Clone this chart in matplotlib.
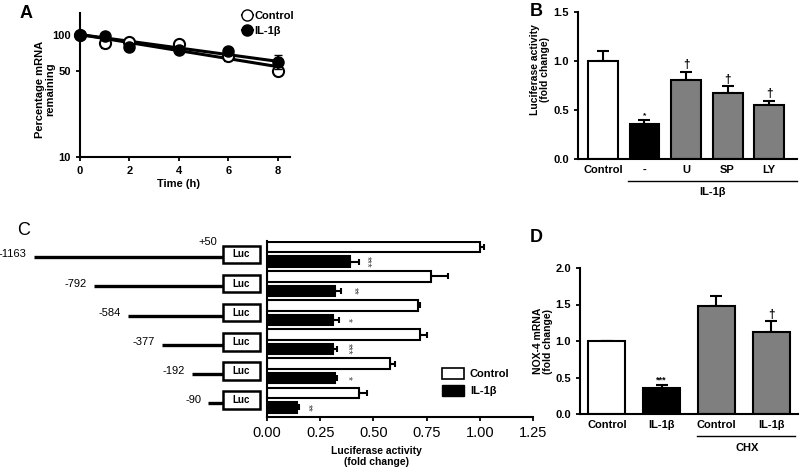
import numpy as np
import matplotlib.pyplot as plt
from matplotlib.patches import Rectangle, Patch
from matplotlib.lines import Line2D

plt.rcParams['font.family'] = ['Liberation Sans', 'DejaVu Sans']
plt.rcParams['axes.linewidth'] = 1.5
plt.rcParams['xtick.major.width'] = 1.3
plt.rcParams['ytick.major.width'] = 1.3
plt.rcParams['xtick.major.size'] = 3
plt.rcParams['ytick.major.size'] = 3

# --- panel A data: mRNA decay
time_h = [0, 1, 2, 4, 6, 8]
ctrl_pct = [100, 86, 87, 83, 67, 50]
ctrl_err = [0, 9, 3, 3, 6, 3]
il_pct = [100, 98, 79, 75, 73, 60]
il_err = [0, 3, 3, 3, 5, 8]

# --- panel B data
b_labels = ['Control', '-', 'U', 'SP', 'LY']
b_vals = [1.00, 0.36, 0.81, 0.67, 0.55]
b_err = [0.10, 0.04, 0.08, 0.07, 0.04]
b_marks = ['', '*', '†', '†', '†']

# --- panel C data
c_start = [-1163, -792, -584, -377, -192, -90]
c_ctrl = [1.00, 0.77, 0.71, 0.72, 0.58, 0.43]
c_ctrl_err = [0.02, 0.08, 0.01, 0.03, 0.02, 0.04]
c_il = [0.39, 0.32, 0.31, 0.31, 0.32, 0.14]
c_il_err = [0.04, 0.03, 0.03, 0.02, 0.01, 0.01]
c_stars = ['***', '**', '*', '***', '*', '**']
c_star_x = [0.47, 0.41, 0.38, 0.38, 0.38, 0.19]

# --- panel D data
d_labels = ['Control', 'IL-1β', 'Control', 'IL-1β']
d_vals = [1.00, 0.36, 1.48, 1.13]
d_err = [0.0, 0.04, 0.13, 0.14]
d_marks = ['', '***', '', '†']

W, H = 800, 472
fig = plt.figure(figsize=(8, 4.72), dpi=100)


def px_axes(l, t, r, b):
    return fig.add_axes([l / W, 1 - b / H, (r - l) / W, (b - t) / H])


def clean(ax):
    ax.spines['top'].set_visible(False)
    ax.spines['right'].set_visible(False)


bold = dict(fontweight='bold')

# ================= A =================
axA = px_axes(80, 13, 290, 157)
clean(axA)
axA.set_yscale('log')
axA.set_ylim(10, 150)
axA.set_xlim(0, 8.5)
t = np.array(time_h, dtype=float)
tt = np.array([0, 8.0])
for vals in (ctrl_pct, il_pct):
    # decay fit constrained to start at 100 %
    k = np.sum(t * np.log10(np.array(vals) / 100)) / np.sum(t ** 2)
    axA.plot(tt, 100 * 10 ** (k * tt), color='black', lw=2.2, zorder=2)
axA.errorbar(time_h, ctrl_pct, yerr=ctrl_err, fmt='o', ms=8, mfc='white', mec='black',
             mew=1.5, ecolor='black', elinewidth=1.3, capsize=3, clip_on=False, zorder=3)
axA.errorbar(time_h, il_pct, yerr=il_err, fmt='o', ms=8, mfc='black', mec='black',
             ecolor='black', elinewidth=1.3, capsize=3, clip_on=False, zorder=4)
axA.set_xticks([0, 2, 4, 6, 8])
axA.set_yticks([10, 50, 100])
axA.set_yticklabels(['10', '50', '100'])
axA.minorticks_off()
axA.tick_params(labelsize=8)
for lab in axA.get_xticklabels() + axA.get_yticklabels():
    lab.set_fontweight('bold')
axA.set_xlabel('Time (h)', fontsize=8, **bold)
axA.xaxis.set_label_coords(0.47, -0.15)
axA.set_ylabel('Percentage mRNA\nremaining', fontsize=8, **bold, linespacing=1.0)
axA.yaxis.set_label_coords(-0.12, 0.47)
hA = [Line2D([0], [0], color='black', lw=1.5, marker='o', ms=8, mfc='white', mec='black'),
      Line2D([0], [0], color='black', lw=1.5, marker='o', ms=8, mfc='black')]
fig.legend(hA, ['Control', 'IL-1β'], loc='upper left', bbox_to_anchor=(234 / W, 1 - 3 / H),
           frameon=False, prop=dict(size=8, weight='bold'), handlelength=1.0,
           handletextpad=0.15, labelspacing=0.45, borderpad=0.2)
fig.text(20 / W, 1 - 14 / H, 'A', fontsize=13, **bold, va='center')

# ================= B =================
axB = px_axes(578, 12, 797, 159)
clean(axB)
xb = np.arange(len(b_vals))
axB.bar(xb, b_vals, width=0.72, color=['white', 'black', '#7f7f7f', '#7f7f7f', '#7f7f7f'],
        edgecolor='black', lw=1.5, zorder=2)
axB.errorbar(xb, b_vals, yerr=[np.zeros(len(b_err)), b_err], fmt='none', ecolor='black',
             elinewidth=1.5, capsize=4.5, capthick=1.5, zorder=1)
for x, v, e, m in zip(xb, b_vals, b_err, b_marks):
    if m:
        axB.text(x, v + e + 0.01, m, ha='center', va='bottom',
                 fontsize=6 if m == '*' else 8.5, **bold)
axB.set_xlim(-0.6, 4.67)
axB.set_ylim(0, 1.5)
axB.set_yticks([0, 0.5, 1.0, 1.5])
axB.set_yticklabels(['0.0', '0.5', '1.0', '1.5'])
axB.set_xticks(xb)
axB.set_xticklabels(b_labels)
axB.tick_params(axis='x', length=0, labelsize=8, pad=4)
axB.tick_params(axis='y', labelsize=8)
for lab in axB.get_xticklabels() + axB.get_yticklabels():
    lab.set_fontweight('bold')
axB.set_ylabel('Luciferase activity\n(fold change)', fontsize=7.5, **bold, linespacing=1.0)
axB.yaxis.set_label_coords(-0.128, 0.61)
trB = axB.get_xaxis_transform()
axB.plot([0.6, 4.67], [-0.15, -0.15], transform=trB, color='black', lw=1.0, clip_on=False)
axB.text(2.63, -0.225, 'IL-1β', transform=trB, ha='center', va='center', fontsize=8, **bold)
fig.text(530 / W, 1 - 12 / H, 'B', fontsize=13, **bold, va='center')

# ================= C =================
axC = px_axes(267, 241, 533, 417)
clean(axC)
yc = np.arange(len(c_ctrl))
off = 0.25
axC.barh(yc - off, c_ctrl, height=0.36, color='white', edgecolor='black', lw=1.5, zorder=2)
axC.barh(yc + off, c_il, height=0.36, color='black', edgecolor='black', lw=1.5, zorder=2)
axC.errorbar(c_ctrl, yc - off, xerr=[np.zeros(6), c_ctrl_err], fmt='none', ecolor='black',
             elinewidth=1.5, capsize=2.5, capthick=1.5, zorder=1)
axC.errorbar(c_il, yc + off, xerr=[np.zeros(6), c_il_err], fmt='none', ecolor='black',
             elinewidth=1.5, capsize=2.5, capthick=1.5, zorder=1)
for y, s, x in zip(yc, c_stars, c_star_x):
    axC.text(x, y + off, s, rotation=270, ha='center', va='center', fontsize=7, color='#444444')
axC.set_ylim(5.58, -0.46)
axC.set_xlim(0, 1.25)
axC.set_xticks([0, 0.25, 0.5, 0.75, 1.0, 1.25])
axC.set_xticklabels(['0.00', '0.25', '0.50', '0.75', '1.00', '1.25'])
axC.set_yticks([])
axC.tick_params(axis='x', labelsize=10.5)
axC.set_xlabel('Luciferase activity\n(fold change)', fontsize=7.5, **bold, linespacing=1.1)
axC.xaxis.set_label_coords(0.41, -0.165)
hC = [Patch(facecolor='white', edgecolor='black', lw=1.2), Patch(facecolor='black', edgecolor='black')]
axC.legend(hC, ['Control', 'IL-1β'], loc='upper left', bbox_to_anchor=(432 / W, 1 - 358 / H),
           bbox_transform=fig.transFigure, frameon=False, prop=dict(size=8, weight='bold'),
           handlelength=2.0, handleheight=1.2, handletextpad=0.5, labelspacing=0.5)

# promoter schematic, same rows as the bars
axS = px_axes(0, 241, 265, 417)
axS.set_ylim(5.58, -0.46)
scale = 0.1625
axS.set_xlim(-223 / scale, 42 / scale)
axS.axis('off')
box_w = 37 / scale
for y, s in zip(yc, c_start):
    axS.plot([s, 0], [y + 0.1, y + 0.1], color='black', lw=2.4, solid_capstyle='butt')
    axS.add_patch(Rectangle((0, y - 0.3), box_w, 0.6, facecolor='white', edgecolor='black',
                            lw=1.8, zorder=3))
    axS.text(box_w / 2, y, 'Luc', ha='center', va='center', fontsize=7, **bold, zorder=4)
    axS.text(s - 45, y, str(s), ha='right', va='center', fontsize=8)
axS.text(-35, -0.43, '+50', ha='right', va='center', fontsize=8)
fig.text(17 / W, 1 - 230 / H, 'C', fontsize=13, va='center')

# ================= D =================
axD = px_axes(580, 268, 798, 414)
clean(axD)
xd = np.arange(len(d_vals))
axD.bar(xd, d_vals, width=0.68, color=['white', 'black', '#7f7f7f', '#7f7f7f'],
        edgecolor='black', lw=1.5, zorder=2)
axD.errorbar(xd, d_vals, yerr=[np.zeros(len(d_err)), d_err], fmt='none', ecolor='black',
             elinewidth=1.5, capsize=4.5, capthick=1.5, zorder=1)
for x, v, e, m in zip(xd, d_vals, d_err, d_marks):
    if m:
        axD.text(x, v + e + 0.01, m, ha='center', va='bottom',
                 fontsize=6.5 if '*' in m else 8.5, **bold)
axD.set_xlim(-0.49, 3.49)
axD.set_ylim(0, 2.0)
axD.set_yticks([0, 0.5, 1.0, 1.5, 2.0])
axD.set_yticklabels(['0.0', '0.5', '1.0', '1.5', '2.0'])
axD.set_xticks(xd)
axD.set_xticklabels(d_labels)
axD.tick_params(axis='x', length=0, labelsize=8, pad=4)
axD.tick_params(axis='y', labelsize=8)
for lab in axD.get_xticklabels() + axD.get_yticklabels():
    lab.set_fontweight('bold')
axD.set_ylabel('NOX-4 mRNA\n(fold change)', fontsize=7.5, **bold, linespacing=1.0)
axD.yaxis.set_label_coords(-0.124, 0.5)
trD = axD.get_xaxis_transform()
axD.plot([1.65, 3.44], [-0.15, -0.15], transform=trD, color='black', lw=1.0, clip_on=False)
axD.text(2.56, -0.235, 'CHX', transform=trD, ha='center', va='center', fontsize=8, **bold)
fig.text(530 / W, 1 - 237 / H, 'D', fontsize=13, **bold, va='center')

fig.savefig('out.png', dpi=100)
